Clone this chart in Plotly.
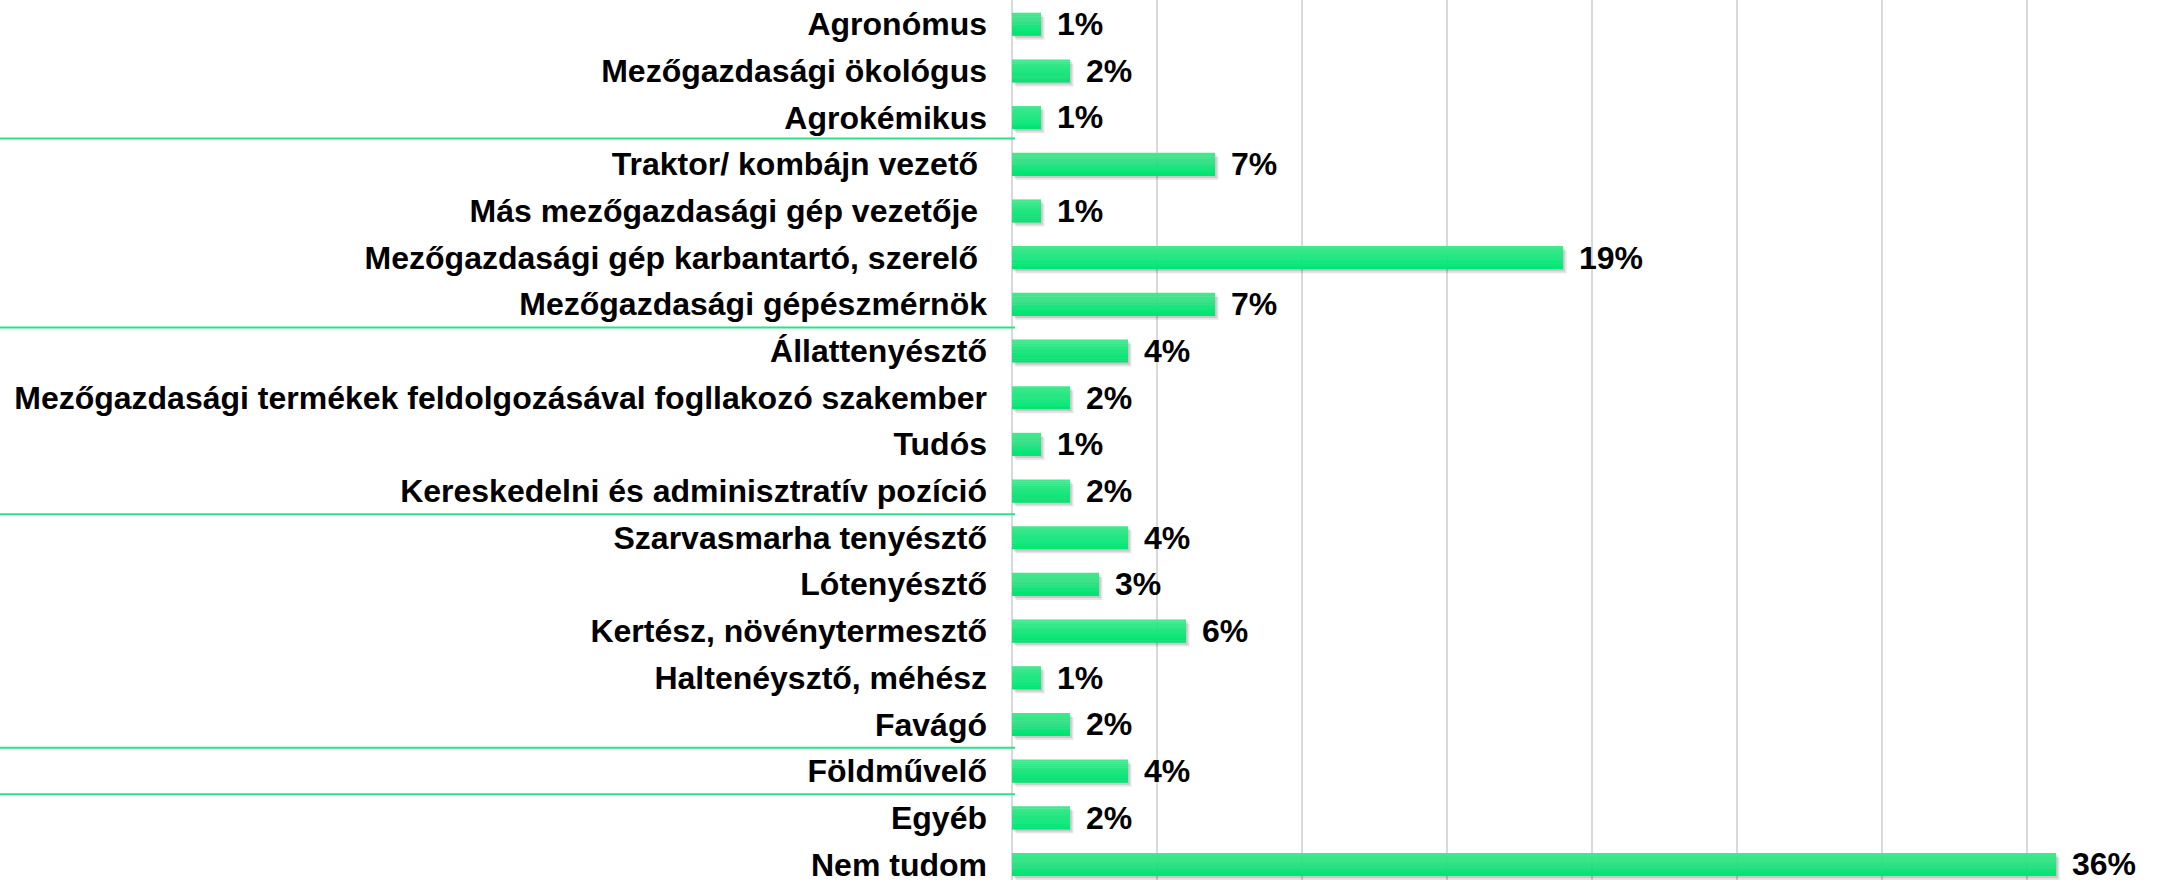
import plotly.graph_objects as go

categories = [
    "Agronómus",
    "Mezőgazdasági ökológus",
    "Agrokémikus",
    "Traktor/ kombájn vezető\u00a0",
    "Más mezőgazdasági gép vezetője\u00a0",
    "Mezőgazdasági gép karbantartó, szerelő\u00a0",
    "Mezőgazdasági gépészmérnök",
    "Állattenyésztő",
    "Mezőgazdasági termékek feldolgozásával fogllakozó szakember",
    "Tudós",
    "Kereskedelni és adminisztratív pozíció",
    "Szarvasmarha tenyésztő",
    "Lótenyésztő",
    "Kertész, növénytermesztő",
    "Haltenéysztő, méhész",
    "Favágó",
    "Földművelő",
    "Egyéb",
    "Nem tudom",
]
values = [1, 2, 1, 7, 1, 19, 7, 4, 2, 1, 2, 4, 3, 6, 1, 2, 4, 2, 36]
value_labels = [f"{v}%" for v in values]
separators_after = [2.45, 6.5, 10.5, 15.5, 16.5]

W, H = 2164, 883
ML = 1012
plot_w = W - ML
bar_w = 0.49
top_col = (66, 232, 142)
bot_col = (0, 228, 114)
font_family = "Liberation Sans, Arial, sans-serif"

fig = go.Figure()

# shadow
fig.add_trace(go.Bar(
    y=categories, x=values, orientation="h", base=0.12,
    width=bar_w, offset=-bar_w / 2 + 0.09,
    marker=dict(color="rgba(0,0,0,0.10)", line=dict(width=0)),
    hoverinfo="skip", showlegend=False,
))
fig.add_trace(go.Bar(
    y=categories, x=values, orientation="h", base=0.06,
    width=bar_w, offset=-bar_w / 2 + 0.05,
    marker=dict(color="rgba(0,0,0,0.12)", line=dict(width=0)),
    hoverinfo="skip", showlegend=False,
))

# gradient bar slices
N = 12
for i in range(N):
    t = i / (N - 1)
    c = tuple(round(top_col[k] + (bot_col[k] - top_col[k]) * t) for k in range(3))
    fig.add_trace(go.Bar(
        y=categories, x=values, orientation="h",
        width=bar_w / N * 1.15, offset=-bar_w / 2 + i * bar_w / N,
        marker=dict(color=f"rgb{c}", line=dict(width=0)),
        hoverinfo="skip", showlegend=False,
    ))

annotations = []
for cat, v, lab in zip(categories, values, value_labels):
    annotations.append(dict(
        x=v, y=cat, xref="x", yref="y", text=lab, showarrow=False,
        xanchor="left", yanchor="middle", xshift=14,
        font=dict(family=font_family, size=32, color="#000000", weight="bold"),
    ))

shapes = []
for s in separators_after:
    shapes.append(dict(
        type="line", xref="paper", yref="y",
        x0=-ML / plot_w, x1=3 / plot_w, y0=s, y1=s,
        line=dict(color="rgb(40,226,140)", width=2), layer="above",
    ))

fig.update_layout(
    width=W, height=H,
    margin=dict(l=ML, r=0, t=0, b=0),
    barmode="overlay",
    plot_bgcolor="white", paper_bgcolor="white",
    annotations=annotations, shapes=shapes,
    xaxis=dict(
        range=[0, 39.72], dtick=5, tick0=0, showticklabels=False,
        showgrid=True, gridcolor="#D9D9D9", gridwidth=2,
        zeroline=True, zerolinecolor="#D9D9D9", zerolinewidth=2,
        fixedrange=True,
    ),
    yaxis=dict(
        type="category", categoryorder="array", categoryarray=categories,
        range=[18.335, -0.517], showgrid=False, zeroline=False,
        ticks="", ticklabelstandoff=24,
        tickfont=dict(family=font_family, size=32, color="#000000", weight="bold"),
        fixedrange=True,
    ),
    showlegend=False,
)

fig.write_html(
    "out.html",
    config={"displayModeBar": False},
    post_script="document.body.style.margin='0';document.body.style.overflow='hidden';",
)
